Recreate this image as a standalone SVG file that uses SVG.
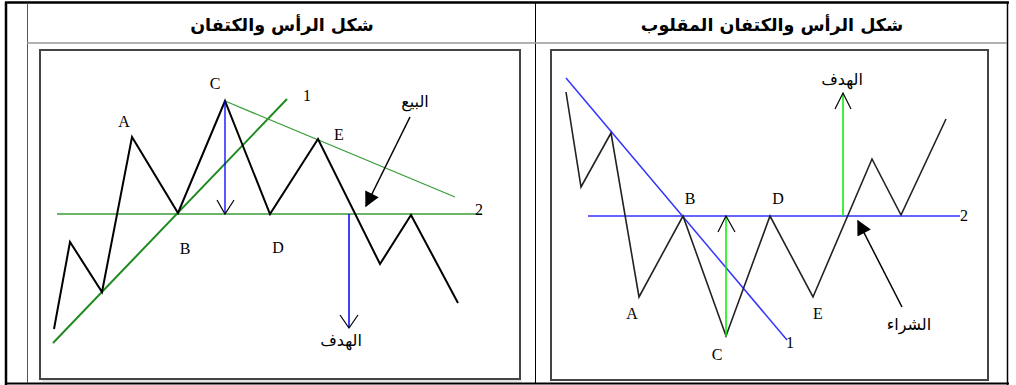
<svg xmlns="http://www.w3.org/2000/svg" width="1016" height="385" viewBox="0 0 1016 385">
<style>
.hdr{font-family:"DejaVu Sans",sans-serif;font-weight:bold;font-size:17.5px;fill:#000;text-anchor:middle}
.ar{font-family:"DejaVu Sans",sans-serif;font-size:16px;fill:#000;text-anchor:middle}
.lt{font-family:"Liberation Serif",serif;font-size:16px;fill:#000;text-anchor:middle}
.zig{fill:none;stroke:#000;stroke-width:2;stroke-linejoin:miter}
.frame{fill:#fff;stroke:#444;stroke-width:2}
.ah{fill:none;stroke:#000;stroke-width:1.2}
</style>
<defs>
<marker id="tri" viewBox="0 0 10 10" refX="9" refY="5" markerWidth="17" markerHeight="15" orient="auto" markerUnits="userSpaceOnUse">
<path d="M0,0 L10,5 L0,10 Z" fill="#000"/>
</marker>
</defs>
<rect width="1016" height="385" fill="#fff"/>
<g id="table">
<line x1="5" y1="2.5" x2="1009" y2="2.5" stroke="#000" stroke-width="2.5"/>
<line x1="6" y1="2" x2="6" y2="385" stroke="#000" stroke-width="2.5"/>
<line x1="1007.5" y1="2" x2="1007.5" y2="385" stroke="#000" stroke-width="1.5"/>
<line x1="5" y1="383.5" x2="1009" y2="383.5" stroke="#000" stroke-width="2"/>
<line x1="27.5" y1="3" x2="27.5" y2="383" stroke="#555" stroke-width="1"/>
<line x1="535.5" y1="3" x2="535.5" y2="383" stroke="#000" stroke-width="1"/>
<line x1="27" y1="43" x2="1007" y2="43" stroke="#999" stroke-width="1.5"/>
<text class="hdr" x="282" y="31">شكل الرأس والكتفان</text>
<text class="hdr" x="772" y="31">شكل الرأس والكتفان المقلوب</text>
</g>
<g id="left-panel">
<rect class="frame" x="40" y="50" width="480" height="329"/>
<line x1="42" y1="381" x2="522" y2="381" stroke="#ccc" stroke-width="1"/>
</g>
<g id="right-panel">
<rect class="frame" x="551" y="50" width="437" height="330"/>
</g>
<g id="connectors">
<line x1="57" y1="214" x2="482" y2="214" stroke="#3a9d3a" stroke-width="1.5"/>
<line x1="53" y1="343" x2="287" y2="99" stroke="#1f8a1f" stroke-width="2"/>
<line x1="225" y1="101" x2="455" y2="197" stroke="#3a9d3a" stroke-width="1.3"/>
<polyline class="zig" points="54,329 70,242 102,292 132,137 178,213 225,101 270,214 318,139 380,264 411,215 458,303"/>
<line x1="225" y1="101" x2="225" y2="214" stroke="#0000ff" stroke-width="1.3"/>
<polyline class="ah" points="217,200 225,214 234,200"/>
<line x1="349" y1="214" x2="349" y2="328" stroke="#0000ff" stroke-width="1.5"/>
<polyline class="ah" points="340,315 349,328 358,315"/>
<line x1="410" y1="117" x2="366" y2="206" stroke="#000" stroke-width="1.5" marker-end="url(#tri)"/>
<line x1="588" y1="216" x2="960" y2="216" stroke="#3333ff" stroke-width="1.5"/>
<line x1="566" y1="78" x2="787" y2="340" stroke="#3333ff" stroke-width="1.5"/>
<polyline class="zig" style="stroke:#222;stroke-width:1.6" points="566,92 581,187 611,133 639,297 683,216 726,336 770,216 813,297 872,159 901,215 946,119"/>
<line x1="726" y1="336" x2="726" y2="216" stroke="#00ee00" stroke-width="1.5"/>
<polyline class="ah" points="718,232 726,216 735,232"/>
<line x1="843" y1="216" x2="843" y2="93" stroke="#00ee00" stroke-width="1.5"/>
<polyline class="ah" points="835,109 843,93 851,109"/>
<line x1="902" y1="307" x2="858" y2="221" stroke="#000" stroke-width="1.5" marker-end="url(#tri)"/>
</g>
<g id="labels">
<text class="lt" x="124" y="127">A</text>
<text class="lt" x="215" y="89">C</text>
<text class="lt" x="185" y="254">B</text>
<text class="lt" x="278" y="253">D</text>
<text class="lt" x="339" y="140">E</text>
<text class="lt" x="307" y="101">1</text>
<text class="lt" x="479" y="215">2</text>
<text class="ar" x="415" y="107">البيع</text>
<text class="ar" x="341" y="346">الهدف</text>
<text class="lt" x="690" y="204">B</text>
<text class="lt" x="778" y="204">D</text>
<text class="lt" x="632" y="319">A</text>
<text class="lt" x="717" y="360">C</text>
<text class="lt" x="818" y="319">E</text>
<text class="lt" x="790" y="348">1</text>
<text class="lt" x="964" y="221">2</text>
<text class="ar" x="842" y="85">الهدف</text>
<text class="ar" x="909" y="330">الشراء</text>
</g>
</svg>
